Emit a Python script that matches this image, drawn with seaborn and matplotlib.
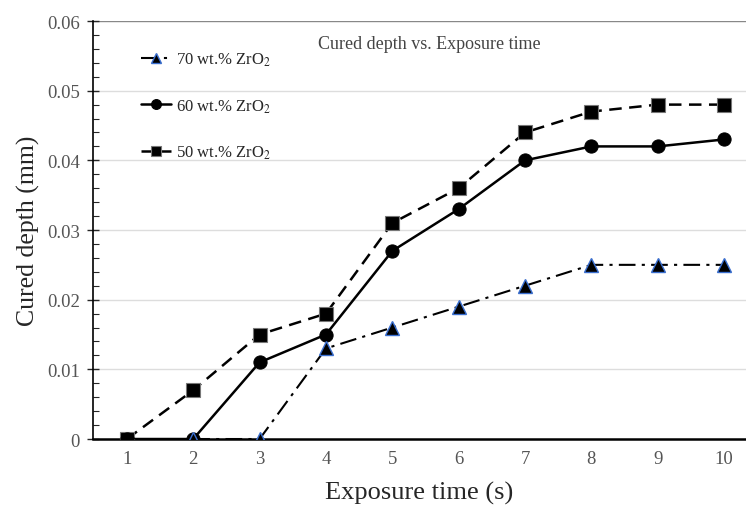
import pandas as pd
import numpy as np
import matplotlib.pyplot as plt
import seaborn as sns

# data
time_70 = [2, 3, 4, 5, 6, 7, 8, 9, 10]
depth_70 = [0, 0, 0.013, 0.016, 0.019, 0.022, 0.025, 0.025, 0.025]
time_60 = [1, 2, 3, 4, 5, 6, 7, 8, 9, 10]
depth_60 = [0, 0, 0.011, 0.015, 0.027, 0.033, 0.040, 0.042, 0.042, 0.043]
time_50 = [1, 2, 3, 4, 5, 6, 7, 8, 9, 10]
depth_50 = [0, 0.007, 0.015, 0.018, 0.031, 0.036, 0.044, 0.047, 0.048, 0.048]
x_ticks = list(range(1, 11))
y_ticks = [0, 0.01, 0.02, 0.03, 0.04, 0.05, 0.06]
y_labels = ['0', '0.01', '0.02', '0.03', '0.04', '0.05', '0.06']

sns.set_style("white")
plt.rcParams['font.family'] = ['Liberation Serif', 'DejaVu Serif']
plt.rcParams['mathtext.fontset'] = 'stix'

fig = plt.figure(figsize=(7.46, 5.06), dpi=100)
ax = fig.add_axes([0.1247, 0.1304, 0.8753, 0.8261])

# horizontal grid
for yv in y_ticks[1:-1]:
    ax.axhline(yv, color='#dddddd', lw=1, zorder=0)
ax.axhline(0.06, color='#888888', lw=1, zorder=0)

sns.lineplot(x=time_50, y=depth_50, ax=ax, color='black', lw=1.8,
             linestyle=(0, (5, 3)), marker='s', markersize=9.5,
             markerfacecolor='black', markeredgecolor='#777777',
             markeredgewidth=0.8, label='50 wt.% ZrO$_2$', zorder=3)
sns.lineplot(x=time_60, y=depth_60, ax=ax, color='black', lw=1.8,
             linestyle='-', marker='o', markersize=9.5,
             markerfacecolor='black', markeredgecolor='black',
             label='60 wt.% ZrO$_2$', zorder=4)
sns.lineplot(x=time_70, y=depth_70, ax=ax, color='black', lw=1.5,
             linestyle=(0, (8, 3, 1.5, 3)), marker='^', markersize=9.5,
             markerfacecolor='black', markeredgecolor='#3a6fd0',
             markeredgewidth=1.0, label='70 wt.% ZrO$_2$', zorder=5)

ax.set_xlim(0.49, 10.33)
ax.set_ylim(0, 0.06)
ax.set_xticks(x_ticks)
ax.set_yticks(y_ticks)
ax.set_yticklabels(y_labels)
ax.set_yticks(np.arange(0, 0.0601, 0.002), minor=True)
ax.tick_params(axis='y', which='major', left=True, direction='inout', length=9,
               width=1, labelsize=13.5, labelcolor='#555555', pad=5)
ax.tick_params(axis='y', which='minor', left=True, direction='in', length=4,
               width=0.8)
ax.tick_params(axis='x', which='major', length=0, labelsize=13.5,
               labelcolor='#555555', pad=8)

for s in ['top', 'right']:
    ax.spines[s].set_visible(False)
ax.spines['left'].set_color('black')
ax.spines['left'].set_linewidth(1.2)
ax.spines['bottom'].set_color('black')
ax.spines['bottom'].set_linewidth(1.8)

ax.set_xlabel('Exposure time (s)', fontsize=19, labelpad=10)
ax.set_ylabel('Cured depth (mm)', fontsize=18.5, labelpad=5)

ax.text(0.515, 0.947, 'Cured depth vs. Exposure time', transform=ax.transAxes,
        ha='center', va='center', fontsize=13, color='#444444')

handles, labels = ax.get_legend_handles_labels()
ax.legend(handles[::-1], labels[::-1], loc='upper left',
          bbox_to_anchor=(0.05, 0.965), frameon=False, fontsize=12,
          labelspacing=1.75, handlelength=1.8, handletextpad=0.3,
          markerscale=0.75)

fig.savefig('out.png', dpi=100)
